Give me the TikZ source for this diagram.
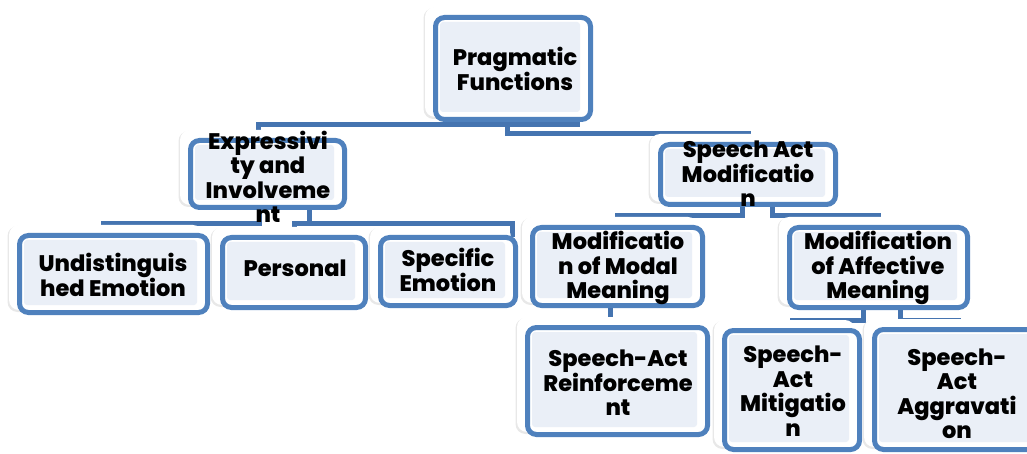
\documentclass[tikz,border=0pt]{standalone}
\usepackage{fontspec}
\setmainfont{Poppins}[BoldFont={Poppins ExtraBold}]
\definecolor{frameblue}{HTML}{4F81BD}
\definecolor{connblue}{HTML}{4574B0}
\definecolor{innerfill}{HTML}{EAEFF7}
\definecolor{shadowc}{HTML}{E8E8E8}
\tikzset{
  frame/.style={draw=frameblue, line width=5pt, fill=white, rounded corners=9pt, inner sep=0pt, outer sep=0pt},
  lbl/.style={font=\fontsize{22.5}{24.5}\selectfont\bfseries, align=center, inner sep=0pt, text=black},
  conn/.style={draw=connblue, line width=5pt},
}
% geometry of a box: blue frame corners (x1,y1)-(x2,y2)
\newcommand\boxnode[5]{%
  \pgfmathsetmacro\bw{#4-#2-5}%
  \pgfmathsetmacro\bh{#5-#3-5}%
  \pgfmathsetmacro\bx{(#2+#4)/2}%
  \pgfmathsetmacro\by{(#3+#5)/2}%
  \path (\bx,\by) node[inner sep=0pt, outer sep=0pt, minimum width=\bw, minimum height=\bh] (#1) {};
}
\newcommand\boxdraw[5]{%
  \fill[shadowc, rounded corners=10pt] ({#2-9.5},{#3-7}) rectangle ({#4-8},{#5-3});
  \fill[white, rounded corners=10pt] ({#2-8},{#3-8}) rectangle ({#4-7},{#5-5});
  \draw[frame] (#1.north west) rectangle (#1.south east);
  \fill[innerfill, rounded corners=3pt] ({#2+7},{#3+7}) rectangle ({#4-13},{#5-10});
}
\begin{document}
\begin{tikzpicture}[x=1pt,y=-1pt]
\useasboundingbox (0,0) rectangle (1027,454);
\clip (0,0) rectangle (1027,454);
% box nodes (positions)
\boxnode{pf}{433}{15}{593}{122}
\boxnode{ex}{188}{138}{347}{210}
\boxnode{ud}{17}{233}{210}{315}
\boxnode{pe}{220}{235}{368}{310}
\boxnode{sp}{378}{235}{518}{308}
\boxnode{sam}{658}{142}{838}{207}
\boxnode{mo}{530}{225}{705}{308}
\boxnode{af}{787}{225}{970}{310}
\boxnode{re}{525}{325}{710}{437}
\boxnode{mi}{722}{328}{862}{452}
\boxnode{ag}{872}{327}{1045}{452}
% connectors
\draw[conn] ([xshift=64pt]pf.south) -- ++(0,5.5) -| ([xshift=-9pt]ex.north);
\draw[conn] ([xshift=-6pt]pf.south) -- ++(0,14.5) -| (sam.north);
\draw[conn] ([xshift=-8pt]ex.south) -- ++(0,16) -| ([xshift=-10pt]ud.north);
\draw[conn] ([xshift=42pt]ex.south) -- ++(0,16) -| (pe.north);
\draw[conn] ([xshift=42pt]ex.south) -- ++(0,16) -| ([xshift=64pt]sp.north);
\draw[conn] ([xshift=-6pt]sam.south) -- ++(0,11.5) -| (mo.north);
\draw[conn] ([xshift=24pt]sam.south) -- ++(0,11.5) -| (af.north);
\draw[conn] ([xshift=-7pt]mo.south) -- ([xshift=-7pt]re.north);
\draw[conn] ([xshift=-15pt]af.south) -- ++(0,12.5) -| (mi.north);
\draw[conn] ([xshift=22pt]af.south) -- ++(0,12.5) -| (ag.north);
% boxes
\boxdraw{pf}{433}{15}{593}{122}
\boxdraw{ex}{188}{138}{347}{210}
\boxdraw{ud}{17}{233}{210}{315}
\boxdraw{pe}{220}{235}{368}{310}
\boxdraw{sp}{378}{235}{518}{308}
\boxdraw{sam}{658}{142}{838}{207}
\boxdraw{mo}{530}{225}{705}{308}
\boxdraw{af}{787}{225}{970}{310}
\boxdraw{re}{525}{325}{710}{437}
\boxdraw{mi}{722}{328}{862}{452}
\boxdraw{ag}{872}{327}{1045}{452}
% labels
\node[lbl] (pf-t) at (515,69) {Pragmatic\\Functions};
\node[lbl] (ex-t) at (268,177) {Expressivi\\ty and\\Involveme\\nt};
\node[lbl] (ud-t) at (113,275) {Undistinguis\\hed Emotion};
\node[lbl] (pe-t) at (295,268) {Personal};
\node[lbl] (sp-t) at (448,270) {Specific\\Emotion};
\node[lbl] (sam-t) at (748,174) {Speech Act\\Modificatio\\n};
\node[lbl] (mo-t) at (618,268) {Modificatio\\n of Modal\\Meaning};
\node[lbl] (af-t) at (878,268) {Modification\\of Affective\\Meaning};
\node[lbl] (re-t) at (618,383) {Speech-Act\\Reinforceme\\nt};
\node[lbl] (mi-t) at (793,391) {Speech-\\Act\\Mitigatio\\n};
\node[lbl] (ag-t) at (957,394) {Speech-\\Act\\Aggravati\\on};
\end{tikzpicture}
\end{document}
